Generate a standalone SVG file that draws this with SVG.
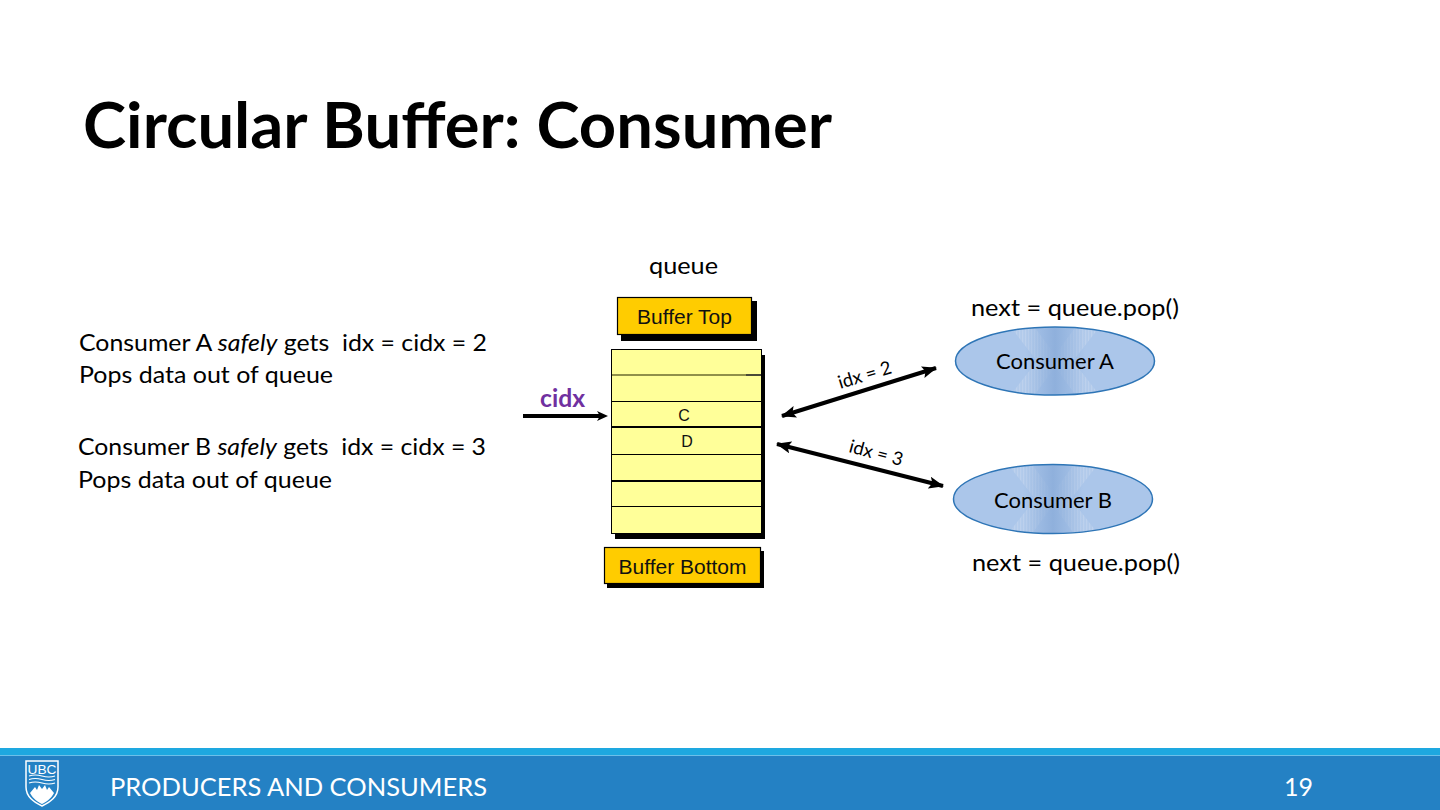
<svg xmlns="http://www.w3.org/2000/svg" width="1440" height="810" viewBox="0 0 1440 810">
<style>
text{white-space:pre}
.c{font-family:Lato,"Open Sans",sans-serif;fill:#000}
.a{font-family:"Liberation Sans",Arial,sans-serif;fill:#111}
.b{fill:#fc0;stroke:#000;stroke-width:1.2}
.sh{fill:#000}
.cell{fill:#ffff99;stroke:#000;stroke-width:1}
.e{fill:none;stroke:#2e75b6;stroke-width:1.5}
.ef{fill:#abc6ea}
.con{stroke:#000;stroke-width:4;fill:none}
</style>
<defs>
<linearGradient id="eg" x1="0" x2="1" y1="0" y2="0">
<stop offset="0" stop-color="#8fb0dc" stop-opacity="0"/><stop offset="0.5" stop-color="#8fb0dc"/><stop offset="1" stop-color="#8fb0dc" stop-opacity="0"/>
</linearGradient>
<pattern id="st" width="3" height="6" patternUnits="userSpaceOnUse"><rect width="1.500" height="6" fill="#bdd1ed"/><rect x="1.500" width="1.500" height="6" fill="#b2caea"/></pattern>
<clipPath id="ca"><ellipse cx="1055" cy="361" rx="99.500" ry="34"/></clipPath>
<clipPath id="cb"><ellipse cx="1053" cy="499" rx="99.500" ry="34.500"/></clipPath>
<g id="xp">
<path d="M-46 -36H-22L0 -6L22 -36H46L18 0L46 36H22L0 6L-22 36H-46L-18 0Z" fill="url(#st)"/>
<rect x="-30" y="-36" width="60" height="72" fill="url(#eg)"/>
</g>
<marker id="ah" viewBox="0 0 15 12" refX="14" refY="6" markerWidth="15" markerHeight="12" markerUnits="userSpaceOnUse" orient="auto-start-reverse"><path d="M0 0L15 6L0 12L3 6Z" fill="#000"/></marker>
<marker id="as" viewBox="0 0 12 12" refX="3" refY="6" markerWidth="12" markerHeight="12" markerUnits="userSpaceOnUse" orient="auto"><path d="M0 1L11 6L0 11L3 6Z" fill="#000"/></marker>
</defs>
<rect width="1440" height="810" fill="#fff"/>
<text id="title" class="c" x="83" y="148" font-size="64" font-weight="700" textLength="749" lengthAdjust="spacingAndGlyphs">Circular Buffer: Consumer</text>
<text class="c" x="649" y="274" font-size="24" textLength="69" lengthAdjust="spacingAndGlyphs">queue</text>
<text class="c" x="971" y="316" font-size="24" textLength="208" lengthAdjust="spacingAndGlyphs">next = queue.pop()</text>
<text class="c" x="972" y="571" font-size="24" textLength="208" lengthAdjust="spacingAndGlyphs">next = queue.pop()</text>
<text class="c" font-size="24" x="79" y="351" textLength="408" lengthAdjust="spacingAndGlyphs">Consumer A <tspan font-style="italic">safely</tspan> gets  idx = cidx = 2</text>
<text class="c" font-size="24" x="79" y="383" textLength="254" lengthAdjust="spacingAndGlyphs">Pops data out of queue</text>
<text class="c" font-size="24" x="78" y="455" textLength="408" lengthAdjust="spacingAndGlyphs">Consumer B <tspan font-style="italic">safely</tspan> gets  idx = cidx = 3</text>
<text class="c" font-size="24" x="78" y="488" textLength="254" lengthAdjust="spacingAndGlyphs">Pops data out of queue</text>

<g id="buffer-top">
<rect class="sh" x="621" y="301" width="136" height="40"/>
<rect class="b" x="617.500" y="297.500" width="134" height="37"/>
<text class="a" x="684.500" y="323.500" font-size="21" text-anchor="middle">Buffer Top</text>
</g>
<g id="buffer-bottom">
<rect class="sh" x="607" y="551" width="157" height="37"/>
<rect class="b" x="604.500" y="547.500" width="156" height="36"/>
<text class="a" x="682.500" y="574" font-size="21" text-anchor="middle">Buffer Bottom</text>
</g>
<g id="queue">
<rect class="sh" x="615" y="355" width="150" height="184"/>
<rect class="cell" x="611.500" y="349.500" width="150" height="184"/>
<g stroke="#000" fill="none">
<path d="M612 375H761" stroke="#6b6b30" stroke-width="1.500"/>
<path d="M746 375H761" stroke="#333" stroke-width="1.500"/>
<path d="M612 401.500H761" stroke-width="1"/>
<path d="M612 427H761" stroke-width="2"/>
<path d="M612 454.500H761" stroke-width="1"/>
<path d="M612 481H761" stroke-width="2"/>
<path d="M612 506.500H761" stroke-width="1"/>
</g>
<text class="a" x="684" y="421" font-size="16" text-anchor="middle">C</text>
<text class="a" x="687" y="447" font-size="16" text-anchor="middle">D</text>
</g>
<g id="consumer-a">
<ellipse class="ef" cx="1055" cy="361" rx="99.500" ry="34"/>
<g clip-path="url(#ca)"><use href="#xp" transform="translate(1055 361)"/></g>
<ellipse class="e" cx="1055" cy="361" rx="99.500" ry="34"/>
<text class="c" x="996" y="369" font-size="22" textLength="118" lengthAdjust="spacingAndGlyphs">Consumer A</text>
</g>
<g id="consumer-b">
<ellipse class="ef" cx="1053" cy="499" rx="99.500" ry="34.500"/>
<g clip-path="url(#cb)"><use href="#xp" transform="translate(1053 499)"/></g>
<ellipse class="e" cx="1053" cy="499" rx="99.500" ry="34.500"/>
<text class="c" x="994" y="508" font-size="22" textLength="118" lengthAdjust="spacingAndGlyphs">Consumer B</text>
</g>
<g id="connectors">
<path class="con" d="M523 416H600" marker-end="url(#as)"/>
<path class="con" d="M782 416L936 368" marker-start="url(#ah)" marker-end="url(#ah)"/>
<path class="con" d="M777 444L943 486" marker-start="url(#ah)" marker-end="url(#ah)"/>
</g>
<text class="c" x="540" y="407" font-size="24" font-weight="700" style="fill:#7030a0" textLength="45" lengthAdjust="spacingAndGlyphs">cidx</text>
<text class="c" font-size="18.500" text-anchor="middle" transform="translate(866.500 381) rotate(-17)">idx = 2</text>
<text class="c" font-size="18.500" text-anchor="middle" transform="translate(874.500 459) rotate(15)">idx = 3</text>

<g id="footer">
<rect x="0" y="748" width="1440" height="62" fill="#2481c4"/>
<rect x="0" y="748" width="1440" height="7" fill="#1ea8e0"/>
<path d="M0 755.500H1440" stroke="#6cc0ea" stroke-width="1"/>
<g id="logo">
<path d="M26 761H58V787C58 797 50 802 42 806C34 802 26 797 26 787Z" fill="#2481c4" stroke="#fff" stroke-width="1.500"/>
<path d="M30 793L35 787L37 790L39 785L42 789L45 785L47 790L49 787L54 793C51 799 46 802 42 804C38 802 33 799 30 793Z" fill="#fff"/>
<path d="M29 776Q35 774 42 776T55 776M29 779.500Q35 777.500 42 779.500T55 779.500M29 783Q35 781 42 783T55 783" stroke="#fff" stroke-width="1.200" fill="none"/>
<text x="42" y="773.500" font-family="Liberation Sans,sans-serif" font-size="13" fill="#fff" text-anchor="middle" textLength="29" lengthAdjust="spacingAndGlyphs">UBC</text>
</g>
<text class="c" x="110" y="796" font-size="25.500" style="fill:#fff" textLength="377" lengthAdjust="spacingAndGlyphs">PRODUCERS AND CONSUMERS</text>
<text class="c" x="1284" y="796" font-size="25.500" style="fill:#fff" textLength="29" lengthAdjust="spacingAndGlyphs">19</text>
</g>
</svg>
